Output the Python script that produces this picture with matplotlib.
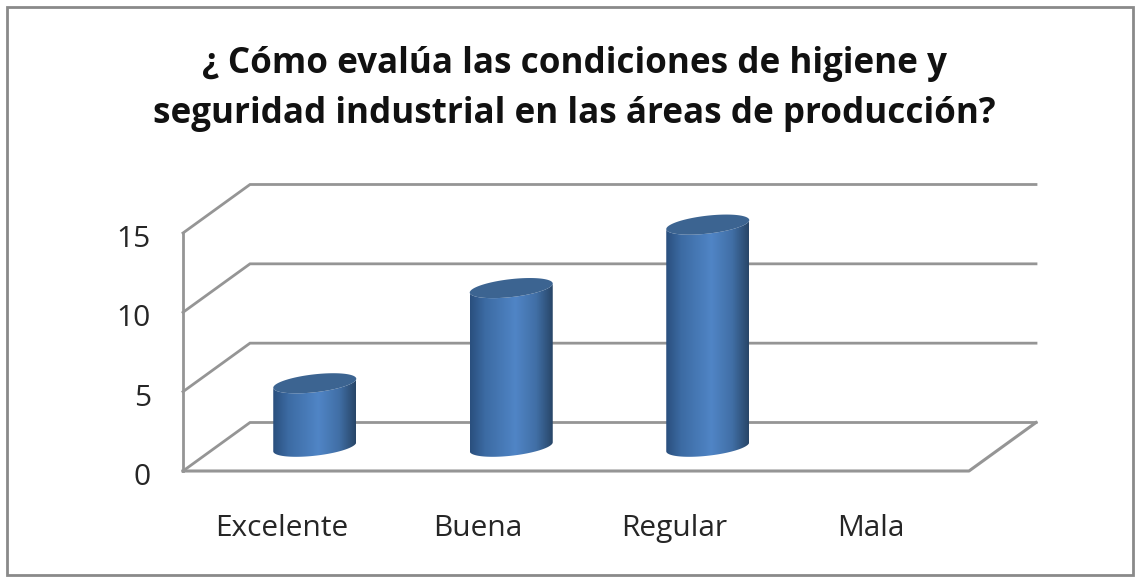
import numpy as np
import matplotlib
matplotlib.use('Agg')
import matplotlib.pyplot as plt
from matplotlib.colors import LinearSegmentedColormap
from matplotlib.patches import Polygon, Rectangle
from matplotlib.transforms import ScaledTranslation

categories = ['Excelente', 'Buena', 'Regular', 'Mala']
values = [4, 10, 14, 0]
y_ticks = [0, 5, 10, 15]
title = '¿ Cómo evalúa las condiciones de higiene y\nseguridad industrial en las áreas de producción?'

W, H = 1141, 583
GREY = '#959595'
TEXT = '#262626'

plt.rcParams['font.family'] = ['Open Sans', 'DejaVu Sans']

fig = plt.figure(figsize=(W / 100, H / 100), dpi=100)
ax = fig.add_axes([183 / W, 1 - 471 / H, (969 - 183) / W, (471 - 233) / H])
ax.set_xlim(0, len(categories))
ax.set_ylim(0, 15)
ax.patch.set_visible(False)

# depth of the fake 3d box, in data units
px_x = (969 - 183) / len(categories)
px_y = (471 - 233) / 15
dx = 67 / px_x
dy = 48.5 / px_y

# back wall and side lines
for v in y_ticks:
    ax.plot([0, dx, len(categories) + dx], [v, v + dy, v + dy], color=GREY, lw=2,
            clip_on=False, zorder=1, solid_joinstyle='miter')
ax.plot([0, len(categories), len(categories) + dx], [0, 0, dy], color=GREY, lw=2.2,
        clip_on=False, zorder=1)

for s in ['top', 'right', 'bottom']:
    ax.spines[s].set_visible(False)
ax.spines['left'].set_color(GREY)
ax.spines['left'].set_linewidth(2)

ax.set_xticks(np.arange(len(categories)) + 0.5)
ax.set_xticklabels(categories)
ax.set_yticks(y_ticks)
ax.tick_params(axis='both', length=0, labelsize=21.5, colors=TEXT)
ax.tick_params(axis='x', pad=31)
ax.tick_params(axis='y', pad=23)
# tick numbers sit a little under their lines
shift = ScaledTranslation(0, -3 / 100, fig.dpi_scale_trans)
for lab in ax.get_yticklabels():
    lab.set_transform(lab.get_transform() + shift)

# cylinders
side = LinearSegmentedColormap.from_list('side', [
    (0.0, '#2a4f7e'), (0.18, '#3c6ba3'), (0.55, '#5085c6'), (0.8, '#416fa6'), (1.0, '#284668')])
grad = np.linspace(0, 1, 128).reshape(1, -1)

a = 41.5 / px_x
b = 9 / px_y
k = 4.5 / px_y
t = np.linspace(0, 2 * np.pi, 200)
front = np.linspace(np.pi, 2 * np.pi, 100)

for i, v in enumerate(values):
    if v == 0:
        continue
    cx = i + 0.5 + dx / 2
    base = dy / 2
    top = base + v
    # front half of base, then back along the top
    xb = cx + a * np.cos(front)
    yb = base + k * np.cos(front) + b * np.sin(front)
    xt = xb[::-1]
    yt = top + k * np.cos(front[::-1]) + b * np.sin(front[::-1])
    body = Polygon(np.column_stack([np.r_[xb, xt], np.r_[yb, yt]]), closed=True,
                   transform=ax.transData, facecolor='none', edgecolor='none')
    ax.add_patch(body)
    body.set_clip_on(False)
    im = ax.imshow(grad, cmap=side, aspect='auto', interpolation='bilinear', zorder=3,
                   extent=[cx - a, cx + a, base - b - k, top + b + k])
    im.set_clip_box(fig.bbox)
    im.set_clip_path(body)
    ax.fill(cx + a * np.cos(t), top + k * np.cos(t) + b * np.sin(t), color='#3c6491',
            zorder=4, clip_on=False, lw=0)

ax.set_xlim(0, len(categories))
ax.set_ylim(0, 15)

fig.text(574 / W, 1 - 89 / H, title, ha='center', va='center', fontsize=25.2,
         fontweight='bold', color='#111111', linespacing=1.5)

# outer chart frame
fig.add_artist(Rectangle((7 / W, 1 - 575 / H), (1133 - 7) / W, (575 - 7) / H,
                         transform=fig.transFigure, fill=False, edgecolor='#8a8a8a', lw=2))

fig.savefig('out.png', dpi=100, facecolor='white')
